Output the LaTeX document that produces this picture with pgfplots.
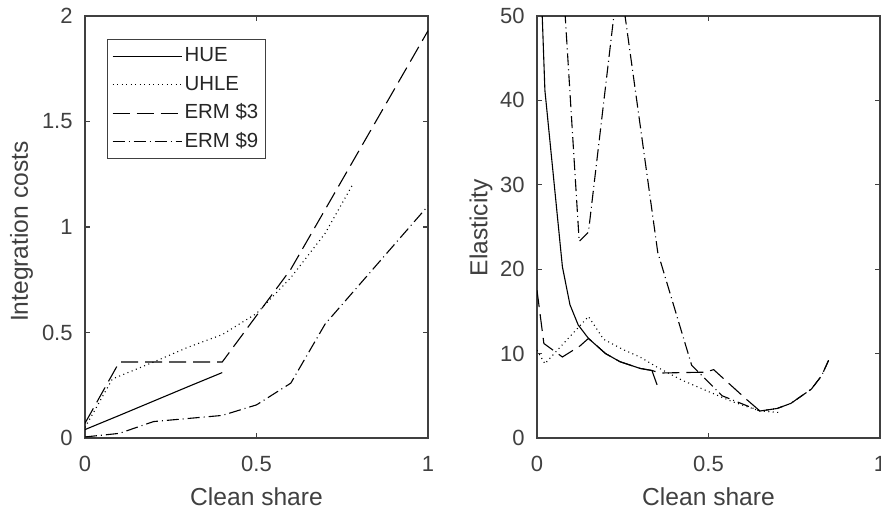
\documentclass[border=0pt]{standalone}
\usepackage{fontspec}
\setmainfont{Liberation Sans}
\usepackage{pgfplots}
\pgfplotsset{compat=1.18}
\definecolor{axgray}{gray}{0.25}
\begin{document}
\begin{tikzpicture}
\pgfplotsset{
  mystyle/.style={
    scale only axis, width=171.5pt, height=211pt,
    xmin=0, xmax=1, xtick={0,0.5,1},
    axis line style={axgray, line width=0.8pt},
    tick style={axgray, line width=0.6pt},
    major tick length=2.5pt,
    tick align=inside, xtick pos=both, ytick pos=both,
    ticklabel style={font=\fontsize{11}{13}\selectfont, text=axgray},
    /pgf/number format/assume math mode=true,
    xticklabel style={inner sep=0pt, anchor=north, yshift=-9pt},
    yticklabel style={inner sep=0pt, anchor=east, xshift=-6pt},
    label style={font=\fontsize{12.3}{14.5}\selectfont, text=axgray},
    xlabel style={at={(axis description cs:0.5,0)}, anchor=base, yshift=-33.5pt},
    every axis plot/.append style={line width=0.55pt, black},
  },
  hue/.style={solid},
  uhle/.style={dash pattern=on 0.5pt off 1.75pt},
  erm3/.style={dash pattern=on 8.5pt off 3.5pt},
  erm9/.style={dash pattern=on 6pt off 2pt on 0.5pt off 2pt},
}
\begin{axis}[mystyle, at={(42.5pt,36pt)}, anchor=south west,
  ymin=0, ymax=2, ytick={0,0.5,1,1.5,2},
  xlabel={Clean share}, ylabel={Integration costs},
  ylabel style={at={(axis description cs:-0.185,0.489)}, rotate=0, anchor=center},
  legend style={at={(rel axis cs:0.064,0.9455)}, anchor=north west,
    draw=axgray, line width=0.5pt, fill=white,
    inner xsep=2.25pt, inner ysep=1.9pt, row sep=1.25pt,
    font=\fontsize{10.2}{12}\selectfont,
    nodes={inner sep=1.25pt, text height=8pt, text depth=2.5pt, text=black!85}},
  legend cell align=left,
  legend image code/.code={\draw[#1] (0pt,0pt) -- (34.5pt,0pt);},
]
\addplot[hue] coordinates {(0,0.04) (0.1,0.107) (0.2,0.175) (0.3,0.243) (0.4,0.31)};
\addlegendentry{HUE}
\addplot[uhle] coordinates {(0,0.05) (0.08,0.28) (0.2,0.36) (0.3,0.43) (0.4,0.49) (0.5,0.59) (0.6,0.76) (0.7,0.97) (0.78,1.2)};
\addlegendentry{UHLE}
\addplot[erm3] coordinates {(0,0.07) (0.1,0.36) (0.4,0.36) (0.6,0.8) (1,1.93)};
\addlegendentry{ERM \$3}
\addplot[erm9] coordinates {(0,0.005) (0.1,0.022) (0.2,0.078) (0.4,0.107) (0.5,0.157) (0.6,0.26) (0.7,0.54) (1,1.1)};
\addlegendentry{ERM \$9}
\end{axis}
\begin{axis}[mystyle, at={(268.5pt,36pt)}, anchor=south west,
  ymin=0, ymax=50, ytick={0,10,20,30,40,50},
  xlabel={Clean share}, ylabel={Elasticity},
  ylabel style={at={(axis description cs:-0.163,0.498)}, rotate=0, anchor=center},
]
\addplot[hue] coordinates {(0.002,65) (0.023,41.2) (0.074,20.3) (0.096,15.8) (0.12,13.4) (0.15,11.8) (0.2,10.0) (0.242,9.04) (0.3,8.25) (0.335,8.0) (0.35,6.3)};
\addplot[uhle] coordinates {(0,10.4) (0.023,8.8) (0.15,14.4) (0.194,11.7) (0.25,10.5) (0.3,9.6) (0.35,8.4) (0.42,6.9) (0.5,5.5) (0.57,4.3) (0.65,3.2) (0.713,3.0)};
\addplot[erm3] coordinates {(0,17.5) (0.02,11.2) (0.074,9.6) (0.125,10.9) (0.15,11.8) (0.2,10.0) (0.242,9.04) (0.3,8.25) (0.335,8.0) (0.36,7.7) (0.49,7.8) (0.515,8.1) (0.61,4.6) (0.65,3.2) (0.7,3.5) (0.74,4.1) (0.8,5.8) (0.83,7.4) (0.85,9.2)};
\addplot[erm9] coordinates {(0.07,58) (0.123,23.3) (0.15,24.4) (0.239,55.2) (0.352,22.0) (0.451,8.6) (0.54,5.0) (0.65,3.2) (0.7,3.5) (0.74,4.1) (0.8,5.8) (0.83,7.4) (0.85,9.2)};
\end{axis}
\pgfresetboundingbox
\path[use as bounding box] (0,0) rectangle (440.5pt,255pt);
\end{tikzpicture}
\end{document}
